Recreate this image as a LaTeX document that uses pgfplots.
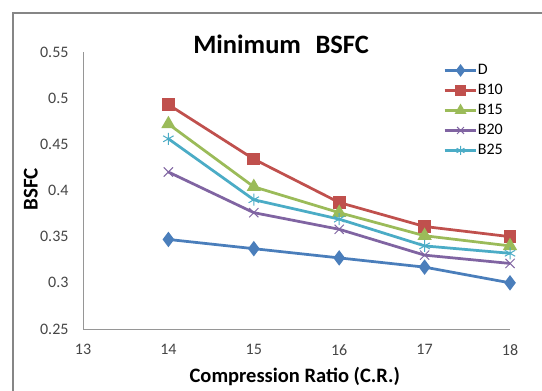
\documentclass[border=0pt]{standalone}
\usepackage{fontspec}
\setmainfont{Carlito}
\usepackage{pgfplots}
\pgfplotsset{compat=1.18}
\definecolor{cD}{HTML}{4A7EBB}
\definecolor{cB10}{HTML}{C0504D}
\definecolor{cB15}{HTML}{9BBB59}
\definecolor{cB20}{HTML}{8064A2}
\definecolor{cB25}{HTML}{4BACC6}
\definecolor{frame}{RGB}{134,134,134}
\definecolor{axln}{RGB}{150,150,150}
\definecolor{tick}{RGB}{70,70,70}
\begin{document}
\begin{tikzpicture}[x=1bp,y=1bp]
\path[use as bounding box] (0,0) rectangle (542,390);
\fill[white] (0,0) rectangle (542,390);
\draw[frame, line width=1.2bp] (13,-20) -- (13,377) -- (600,377);
\begin{axis}[
  at={(83bp,61bp)}, anchor=south west,
  scale only axis, width=427bp, height=277bp,
  xmin=13, xmax=18, ymin=0.25, ymax=0.55,
  xtick={13,14,15,16,17,18},
  ytick={0.25,0.3,0.35,0.4,0.45,0.5,0.55},
  yticklabels={0.25,0.3,0.35,0.4,0.45,0.5,0.55},
  axis x line=bottom, axis y line=left,
  axis line style={-, draw=axln, line width=1bp},
  major tick length=0pt,
  tick label style={font=\fontsize{16bp}{18bp}\selectfont, text=tick},
  /pgf/number format/assume math mode=true,
  xticklabel style={yshift=-12bp},
  yticklabel style={xshift=-11bp},
  title={\textbf{Minimum\hspace{0.55em}BSFC}},
  title style={at={(rel axis cs:0.464,1.007)}, anchor=center, font=\fontsize{26.5bp}{30bp}\selectfont},
  xlabel={\textbf{Compression Ratio (C.R.)}},
  xlabel style={at={(rel axis cs:0.496,-0.17)}, anchor=center, font=\fontsize{20.5bp}{24bp}\selectfont},
  ylabel={\textbf{BSFC}},
  ylabel style={at={(rel axis cs:-0.122,0.504)}, anchor=center, font=\fontsize{21bp}{24bp}\selectfont},
  clip=false,
  every axis plot/.append style={line width=2.75bp},
  legend style={draw=none, fill=none, at={(rel axis cs:0.843,0.962)}, anchor=north west,
    inner sep=0pt, font=\fontsize{16bp}{18bp}\selectfont, row sep=4.5bp,
    nodes={inner sep=1bp, text height=11bp, text depth=2.5bp}},
  legend cell align=left,
  legend image code/.code={\draw[mark repeat=2,mark phase=2,#1,every mark/.append style={scale=0.75}] plot coordinates {(0bp,0bp) (16bp,0bp) (31bp,0bp)};},
]
\addplot[cD, mark=diamond*, mark size=5.5bp, mark options={solid}] coordinates {(14,0.347) (15,0.337) (16,0.327) (17,0.317) (18,0.300)};
\addlegendentry{D}
\addplot[cB10, mark=square*, mark size=5bp] coordinates {(14,0.493) (15,0.434) (16,0.387) (17,0.361) (18,0.350)};
\addlegendentry{B10}
\addplot[cB15, mark=triangle*, mark size=5.5bp] coordinates {(14,0.472) (15,0.404) (16,0.376) (17,0.351) (18,0.340)};
\addlegendentry{B15}
\addplot[cB20, mark=x, mark size=6.5bp, mark options={line width=1bp}] coordinates {(14,0.420) (15,0.376) (16,0.358) (17,0.330) (18,0.321)};
\addlegendentry{B20}
\addplot[cB25, mark=asterisk, mark size=6bp, mark options={line width=1bp}] coordinates {(14,0.456) (15,0.390) (16,0.369) (17,0.340) (18,0.332)};
\addlegendentry{B25}
\end{axis}
\end{tikzpicture}
\end{document}
